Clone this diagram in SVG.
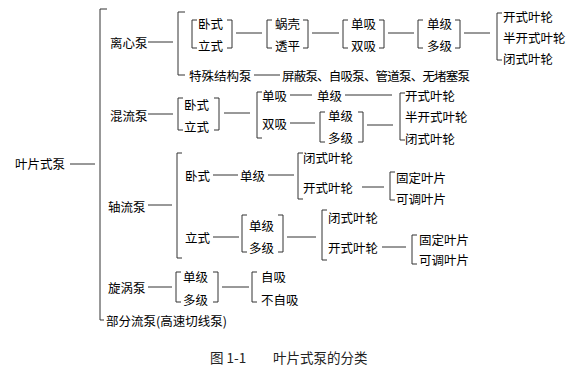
<svg xmlns="http://www.w3.org/2000/svg" width="580" height="374" viewBox="0 0 580 374">
<style>
text{font-family:"Noto Sans CJK SC","Noto Sans",sans-serif;font-size:12.5px;fill:#000;dominant-baseline:central}
.cap{font-size:13.5px;fill:#222}
.ln{fill:none;stroke:#333;stroke-width:1}
</style>
<rect width="580" height="374" fill="#fff"/>
<g id="connectors" class="ln">
<path d="M70 164H95"/>
<path d="M107 9H100V320H104"/>
<path d="M148 42H173"/>
<path d="M185 12H178V75H185"/>
<path d="M236 33H262"/>
<path d="M312 33H339"/>
<path d="M388 33H414"/>
<path d="M464 33H490"/>
<path d="M254 75H280"/>
<path d="M148 114H173"/>
<path d="M224 113H250"/>
<path d="M290 95H312"/>
<path d="M345 95H392"/>
<path d="M290 123H315"/>
<path d="M367 125H393"/>
<path d="M148 205H172"/>
<path d="M182 153H177V258H182"/>
<path d="M213 175H238"/>
<path d="M268 175H294"/>
<path d="M362 187H384"/>
<path d="M213 237H239"/>
<path d="M287 237H316"/>
<path d="M382 247H406"/>
<path d="M148 287H172"/>
<path d="M222 287H249"/>
</g>
<g id="root"><text x="15" y="163">叶片式泵</text></g>
<g id="centrifugal"><text x="110" y="42">离心泵</text></g>
<g id="cf-orientation">
<path class="ln" d="M197 20H192V48H197M227 20H232V48H227"/>
<text x="198" y="23">卧式</text><text x="198" y="45">立式</text>
</g>
<g id="cf-casing">
<path class="ln" d="M272 20H267V48H272M303 20H308V48H303"/>
<text x="275" y="23">蜗壳</text><text x="275" y="45">透平</text>
</g>
<g id="cf-suction">
<path class="ln" d="M348 20H343V48H348M379 20H384V48H379"/>
<text x="351" y="23">单吸</text><text x="351" y="45">双吸</text>
</g>
<g id="cf-stage">
<path class="ln" d="M423 20H418V48H423M455 20H460V48H455"/>
<text x="427" y="23">单级</text><text x="427" y="45">多级</text>
</g>
<g id="cf-impeller">
<path class="ln" d="M502 13H497V60H502"/>
<text x="503" y="16">开式叶轮</text><text x="503" y="37">半开式叶轮</text><text x="503" y="58">闭式叶轮</text>
</g>
<g id="special"><text x="189" y="75">特殊结构泵</text></g>
<g id="special-list"><text x="282" y="75" textLength="188">屏蔽泵、自吸泵、管道泵、无堵塞泵</text></g>
<g id="mixed"><text x="110" y="115">混流泵</text></g>
<g id="mf-orientation">
<path class="ln" d="M183 98H178V130H183M214 98H219V130H214"/>
<text x="184" y="104">卧式</text><text x="184" y="126">立式</text>
</g>
<g id="mf-suction"><path class="ln" d="M262 92H257V138H262"/></g>
<g id="mf-single-suction"><text x="262" y="95">单吸</text></g>
<g id="mf-single-stage"><text x="317" y="95">单级</text></g>
<g id="mf-double-suction"><text x="262" y="123">双吸</text></g>
<g id="mf-stage">
<path class="ln" d="M325 112H320V142H325M358 112H363V142H358"/>
<text x="328" y="115">单级</text><text x="328" y="137">多级</text>
</g>
<g id="mf-impeller">
<path class="ln" d="M405 93H400V140H405"/>
<text x="405" y="95">开式叶轮</text><text x="405" y="116">半开式叶轮</text><text x="405" y="138">闭式叶轮</text>
</g>
<g id="axial"><text x="108" y="206">轴流泵</text></g>
<g id="af-horizontal"><text x="185" y="175">卧式</text></g>
<g id="af-h-stage"><text x="240" y="175">单级</text></g>
<g id="af-h-impeller">
<path class="ln" d="M303 153H298V199H303"/>
<text x="303" y="157">闭式叶轮</text><text x="303" y="187">开式叶轮</text>
</g>
<g id="af-h-blade">
<path class="ln" d="M395 172H390V200H395"/>
<text x="396" y="177">固定叶片</text><text x="396" y="198">可调叶片</text>
</g>
<g id="af-vertical"><text x="185" y="237">立式</text></g>
<g id="af-v-stage">
<path class="ln" d="M247 215H242V252H247M278 215H283V252H278"/>
<text x="249" y="225">单级</text><text x="249" y="247">多级</text>
</g>
<g id="af-v-impeller">
<path class="ln" d="M327 210H322V260H327"/>
<text x="328" y="217">闭式叶轮</text><text x="328" y="247">开式叶轮</text>
</g>
<g id="af-v-blade">
<path class="ln" d="M417 235H412V264H417"/>
<text x="419" y="239">固定叶片</text><text x="419" y="259">可调叶片</text>
</g>
<g id="vortex"><text x="108" y="287">旋涡泵</text></g>
<g id="vp-stage">
<path class="ln" d="M181 272H176V302H181M213 272H218V302H213"/>
<text x="183" y="276">单级</text><text x="183" y="299">多级</text>
</g>
<g id="vp-suction">
<path class="ln" d="M257 272H252V302H257"/>
<text x="261" y="276">自吸</text><text x="261" y="299">不自吸</text>
</g>
<g id="partial"><text x="106" y="320">部分流泵(高速切线泵)</text></g>
<g id="caption"><text class="cap" y="357"><tspan x="210">图 1-1</tspan><tspan x="273">叶片式泵的分类</tspan></text></g>
</svg>
